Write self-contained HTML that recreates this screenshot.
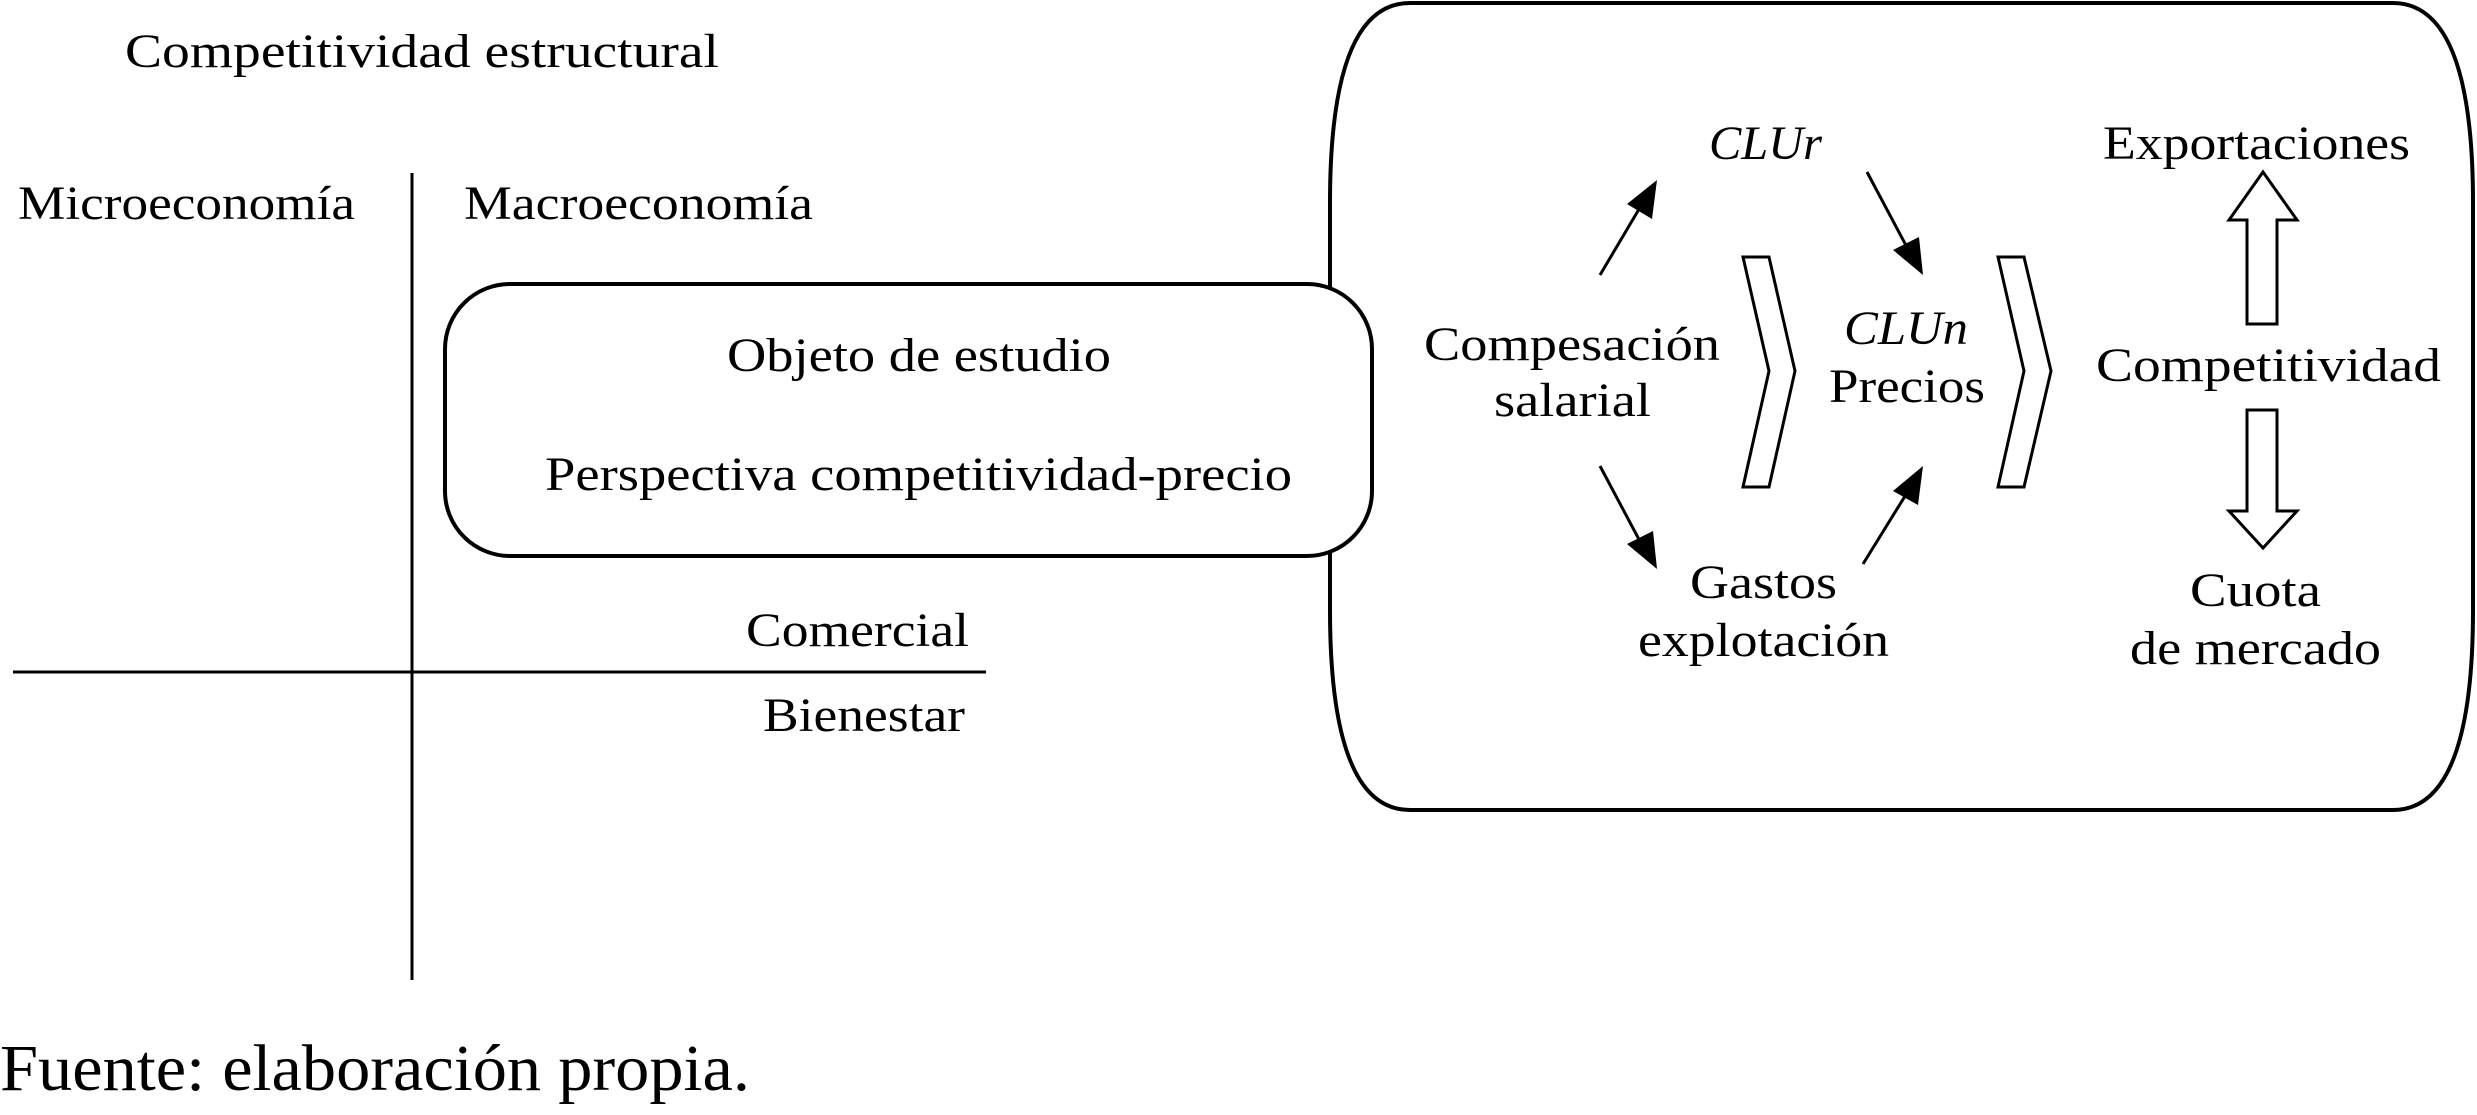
<!DOCTYPE html>
<html><head><meta charset="utf-8"><style>html,body{margin:0;padding:0;background:#fff}svg{display:block}</style></head>
<body>
<svg width="2477" height="1115" viewBox="0 0 2477 1115" xmlns="http://www.w3.org/2000/svg" font-family="'Liberation Serif', serif" font-size="48" fill="#000">
<defs>
<marker id="ah" markerWidth="10" markerHeight="10" refX="9" refY="5" orient="auto" markerUnits="userSpaceOnUse" viewBox="0 0 10 10">
</marker>
</defs>
<!-- big box -->
<path d="M1410,3 L2393,3 Q2473,3 2473,203 L2473,610 Q2473,810 2393,810 L1410,810 Q1330,810 1330,610 L1330,203 Q1330,3 1410,3 Z" fill="#fff" stroke="#000" stroke-width="4"/>
<!-- small box -->
<rect x="445" y="284" width="927" height="272" rx="65" ry="65" fill="#fff" stroke="#000" stroke-width="4"/>
<!-- axes -->
<line x1="412" y1="173" x2="412" y2="980" stroke="#000" stroke-width="3"/>
<line x1="13" y1="672" x2="986" y2="672" stroke="#000" stroke-width="3"/>
<!-- left texts -->
<text x="125" y="67" textLength="594" lengthAdjust="spacingAndGlyphs">Competitividad estructural</text>
<text x="18" y="219" textLength="337" lengthAdjust="spacingAndGlyphs">Microeconomía</text>
<text x="464" y="219" textLength="349" lengthAdjust="spacingAndGlyphs">Macroeconomía</text>
<text x="727" y="371" textLength="384" lengthAdjust="spacingAndGlyphs">Objeto de estudio</text>
<text x="545" y="490" textLength="747" lengthAdjust="spacingAndGlyphs">Perspectiva competitividad-precio</text>
<text x="746" y="646" textLength="223" lengthAdjust="spacingAndGlyphs">Comercial</text>
<text x="763" y="731" textLength="202" lengthAdjust="spacingAndGlyphs">Bienestar</text>
<text x="0" y="1090" font-size="66" textLength="750" lengthAdjust="spacingAndGlyphs">Fuente: elaboración propia.</text>
<!-- arrows -->
<g stroke="#000" stroke-width="3">
<line x1="1600" y1="275" x2="1645" y2="199"/>
<line x1="1867" y1="172" x2="1910" y2="253"/>
<line x1="1600" y1="466" x2="1643" y2="547"/>
<line x1="1863" y1="564" x2="1910" y2="488"/>
</g>
<g fill="#000">
<polygon points="1657,180 1652,219 1627,204"/>
<polygon points="1923,275 1893,250 1919,237"/>
<polygon points="1657,569 1627,544 1653,531"/>
<polygon points="1923,466 1918,505 1893,491"/>
</g>
<!-- chevrons -->
<g fill="#fff" stroke="#000" stroke-width="3">
<polygon points="1743,257 1769,257 1795,371 1769,487 1743,487 1769,371"/>
<polygon points="1998,257 2024,257 2051,371 2024,487 1998,487 2024,371"/>
<polygon points="2263,172 2297,220 2277,220 2277,324 2247,324 2247,220 2229,220"/>
<polygon points="2247,410 2277,410 2277,511 2297,511 2263,548 2229,511 2247,511"/>
</g>
<!-- right texts -->
<text x="1709" y="159" font-style="italic" textLength="113" lengthAdjust="spacingAndGlyphs">CLUr</text>
<text x="2103" y="159" textLength="307" lengthAdjust="spacingAndGlyphs">Exportaciones</text>
<text x="1424" y="360" textLength="296" lengthAdjust="spacingAndGlyphs">Compesación</text>
<text x="1494" y="416" textLength="157" lengthAdjust="spacingAndGlyphs">salarial</text>
<text x="1844" y="344" font-style="italic" textLength="124" lengthAdjust="spacingAndGlyphs">CLUn</text>
<text x="1829" y="402" textLength="156" lengthAdjust="spacingAndGlyphs">Precios</text>
<text x="2096" y="381" textLength="345" lengthAdjust="spacingAndGlyphs">Competitividad</text>
<text x="1690" y="598" textLength="147" lengthAdjust="spacingAndGlyphs">Gastos</text>
<text x="1638" y="656" textLength="251" lengthAdjust="spacingAndGlyphs">explotación</text>
<text x="2190" y="606" textLength="131" lengthAdjust="spacingAndGlyphs">Cuota</text>
<text x="2130" y="664" textLength="251" lengthAdjust="spacingAndGlyphs">de mercado</text>
</svg>
</body></html>
